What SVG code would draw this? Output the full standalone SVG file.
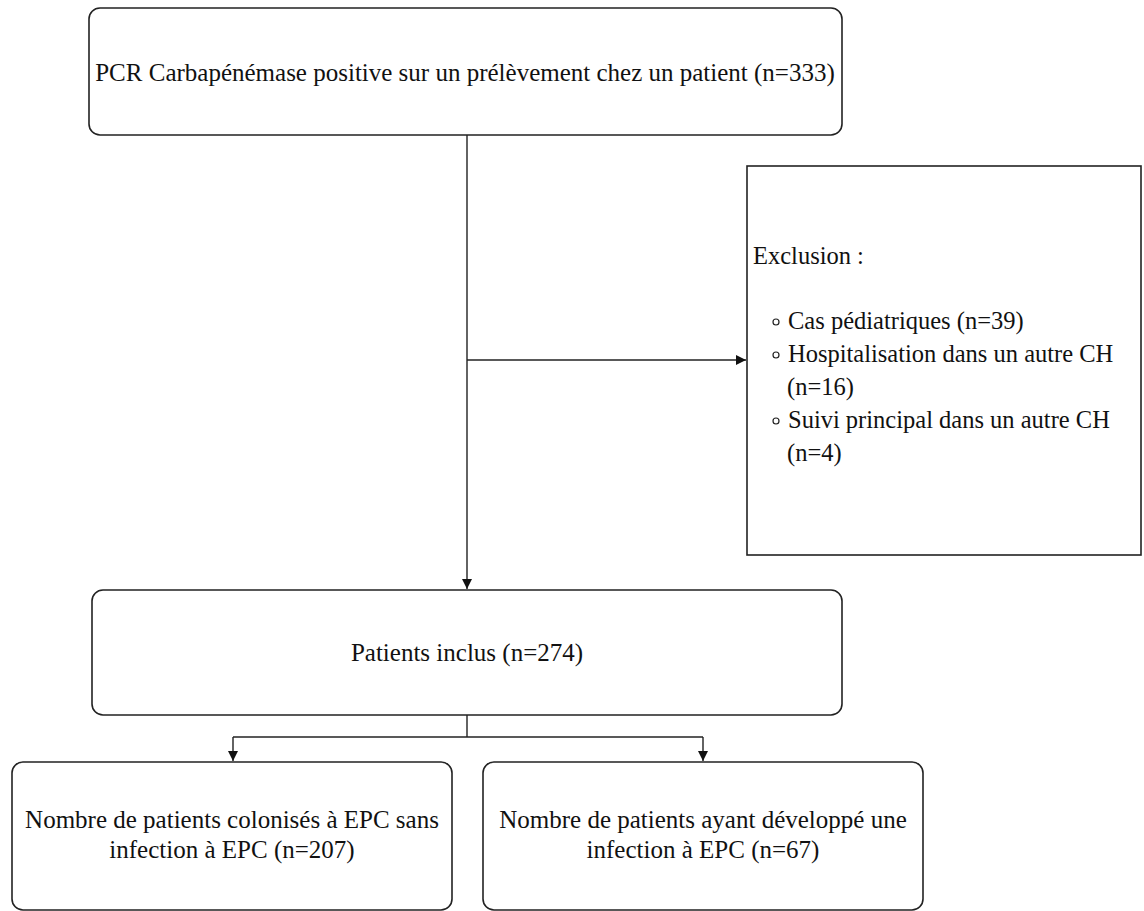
<svg xmlns="http://www.w3.org/2000/svg" width="1144" height="911" viewBox="0 0 1144 911">
<style>
.box{fill:#fff;stroke:#222;stroke-width:1.6}
.t{font-family:"Liberation Serif","Times New Roman",serif;font-size:25px;fill:#111}
.x{font-size:24.5px}
.c{text-anchor:middle}
.ln{fill:none;stroke:#222;stroke-width:1.4}
.bul{fill:none;stroke:#222;stroke-width:1.2}
</style>
<defs>
<marker id="arr" viewBox="0 0 10 10" refX="10" refY="5" markerWidth="10" markerHeight="10" markerUnits="userSpaceOnUse" orient="auto">
<path d="M0,0 L10,5 L0,10 z" fill="#111"/>
</marker>
</defs>
<rect width="1144" height="911" fill="#fff"/>
<g id="connectors">
<line class="ln" x1="467" y1="135" x2="467" y2="589" marker-end="url(#arr)"/>
<line class="ln" x1="467" y1="360" x2="746" y2="360" marker-end="url(#arr)"/>
<polyline class="ln" points="467,715 467,737"/>
<polyline class="ln" points="233,737 703,737"/>
<line class="ln" x1="233" y1="737" x2="233" y2="761" marker-end="url(#arr)"/>
<line class="ln" x1="703" y1="737" x2="703" y2="761" marker-end="url(#arr)"/>
</g>
<g id="node-pcr">
<rect class="box" x="89" y="8" width="753" height="127" rx="11"/>
<text class="t c" x="465" y="81">PCR Carbapénémase positive sur un prélèvement chez un patient (n=333)</text>
</g>
<g id="node-exclusion">
<rect class="box" x="747" y="166" width="394" height="389"/>
<text class="t x" x="753" y="264">Exclusion :</text>
<circle class="bul" cx="776" cy="322" r="3"/>
<text class="t x" x="788" y="329">Cas pédiatriques (n=39)</text>
<circle class="bul" cx="776" cy="355" r="3"/>
<text class="t x" x="788" y="362">Hospitalisation dans un autre CH</text>
<text class="t x" x="787" y="395">(n=16)</text>
<circle class="bul" cx="776" cy="421" r="3"/>
<text class="t x" x="788" y="428">Suivi principal dans un autre CH</text>
<text class="t x" x="787" y="461">(n=4)</text>
</g>
<g id="node-inclus">
<rect class="box" x="92" y="590" width="750" height="125" rx="11"/>
<text class="t c" x="467" y="661">Patients inclus (n=274)</text>
</g>
<g id="node-colonises">
<rect class="box" x="12" y="762" width="440" height="148" rx="11"/>
<text class="t c" x="232" y="828">Nombre de patients colonisés à EPC sans</text>
<text class="t c" x="232" y="858">infection à EPC (n=207)</text>
</g>
<g id="node-infection">
<rect class="box" x="483" y="762" width="440" height="148" rx="11"/>
<text class="t c" x="703" y="828">Nombre de patients ayant développé une</text>
<text class="t c" x="703" y="858">infection à EPC (n=67)</text>
</g>
</svg>
